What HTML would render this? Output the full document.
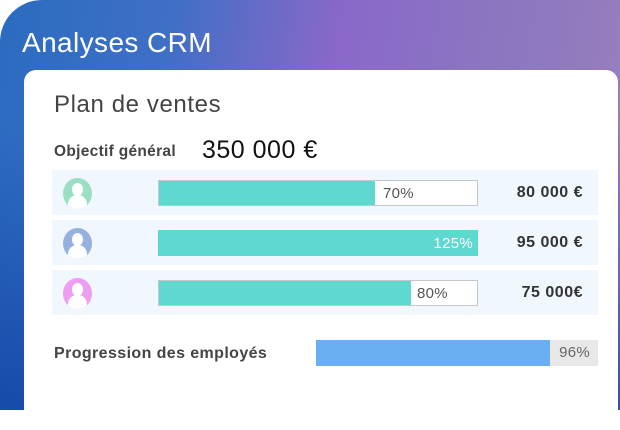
<!DOCTYPE html>
<html><head><meta charset="utf-8"><style>
*{margin:0;padding:0;box-sizing:border-box}
body{width:620px;height:410px;overflow:hidden;background:#fff;font-family:"Liberation Sans",sans-serif;position:relative}
#bg{position:absolute;left:0;top:0;width:620px;height:410px;border-top-left-radius:42px;
background:linear-gradient(100deg,#2a6cc0 0%,#3f6fc6 25%,#8a68c8 50%,#8b78c0 75%,#9c80bc 100%);overflow:hidden}
#bg:after{content:"";position:absolute;left:0;top:0;width:100%;height:100%;
background:linear-gradient(180deg,rgba(0,0,0,0) 30%,rgba(10,60,160,.7) 100%)}
.t{position:absolute;color:#fff;font-size:28px;letter-spacing:0.4px;left:22px;top:27px;z-index:2}
#card{position:absolute;left:24px;top:70px;width:594px;height:360px;background:#fff;border-radius:12px 12px 0 0;z-index:3}
.abs{position:absolute}
.row{position:absolute;left:28px;width:546px;height:45px;background:#f0f7fe}
.av{position:absolute;left:11px;top:8px;width:29px;height:31px;border-radius:50%;overflow:hidden}
.av i{position:absolute;left:9px;top:5px;width:11px;height:13px;border-radius:50%;background:#fff}
.av b{position:absolute;left:5px;top:17px;width:19px;height:16px;border-radius:9px 9px 0 0;background:#fff}
.bar{position:absolute;left:106px;top:10px;width:320px;height:26px;background:#fff;border:1px solid #c4c8cc}
.fill{position:absolute;left:0;top:0;height:100%;background:#5fd8d0}
.pct{position:absolute;top:4px;font-size:15px;letter-spacing:0.3px;color:#555}
.amt{position:absolute;right:15px;top:14px;font-size:16px;letter-spacing:0.5px;font-weight:bold;color:#333}
</style></head><body>
<div id="bg"></div>
<div class="t">Analyses CRM</div>
<div id="card">
<div class="abs" style="left:30px;top:21px;font-size:24px;letter-spacing:0.6px;color:#444">Plan de ventes</div>
<div class="abs" style="left:30px;top:73px;font-size:15.5px;letter-spacing:0.3px;font-weight:bold;color:#444">Objectif général</div>
<div class="abs" style="left:178px;top:66px;font-size:25px;letter-spacing:0.5px;color:#111">350 000 €</div>

<div class="row" style="top:100px"><div class="av" style="background:#9adfc4"><i></i><b></b></div>
<div class="bar"><div class="fill" style="width:216px"></div><span class="pct" style="left:224px">70%</span></div>
<div class="amt">80 000 €</div></div>

<div class="row" style="top:150px"><div class="av" style="background:#96b0e0"><i></i><b></b></div>
<div class="bar" style="border-color:#5fd8d0"><div class="fill" style="width:100%"></div><span class="pct" style="right:4px;color:#fff">125%</span></div>
<div class="amt">95 000 €</div></div>

<div class="row" style="top:200px"><div class="av" style="background:#ee9ef0"><i></i><b></b></div>
<div class="bar"><div class="fill" style="width:252px"></div><span class="pct" style="left:258px">80%</span></div>
<div class="amt">75 000€</div></div>

<div class="abs" style="left:30px;top:275px;font-size:16px;letter-spacing:0.4px;font-weight:bold;color:#444">Progression des employés</div>
<div class="abs" style="left:292px;top:270px;width:282px;height:26px;background:#e8e8e8">
<div class="fill" style="width:234px;background:#68b0f2"></div><span class="pct" style="right:8px;color:#666">96%</span></div>
</div>
</body></html>
